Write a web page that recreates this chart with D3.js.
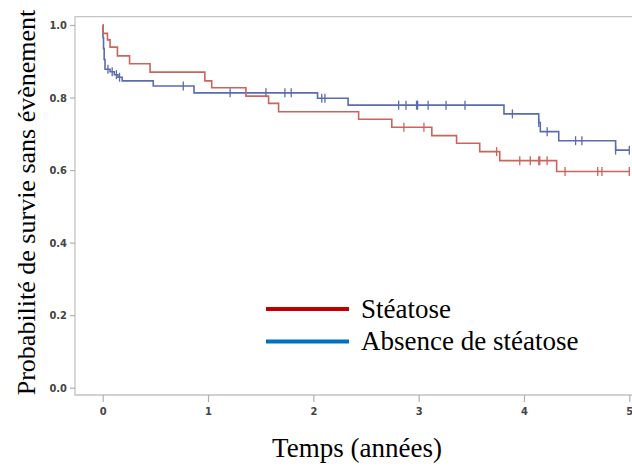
<!DOCTYPE html>
<html><head><meta charset="utf-8">
<script src="https://cdn.jsdelivr.net/npm/d3@7"></script>
<style>body{margin:0;background:#fff}svg{display:block}</style>
</head><body><svg id="c" width="632" height="466"></svg>
<script>
// Stéatose (red): step times and survival after each step
const redTimes  = [0, 0.005, 0.045, 0.07, 0.14, 0.255, 0.45, 0.97, 1.035, 1.36, 1.575, 1.67, 2.43, 2.745, 3.125, 3.36, 3.58, 3.77, 4.31];
const redSurv   = [1.0, 0.977, 0.959, 0.939, 0.915, 0.893, 0.870, 0.846, 0.827, 0.804, 0.784, 0.761, 0.740, 0.718, 0.695, 0.674, 0.651, 0.626, 0.596];
const redCensor = [2.86, 3.05, 3.74, 3.96, 4.06, 4.14, 4.15, 4.22, 4.39, 4.70, 4.74, 5.0];
const redEnd = 5.0;
// Absence de stéatose (blue)
const blueTimes  = [0, 0.003, 0.008, 0.014, 0.022, 0.07, 0.11, 0.145, 0.185, 0.48, 0.867, 2.04, 2.33, 3.81, 4.14, 4.155, 4.33, 4.87];
const blueSurv   = [1.0, 0.965, 0.935, 0.905, 0.878, 0.871, 0.863, 0.856, 0.846, 0.832, 0.813, 0.798, 0.779, 0.755, 0.731, 0.706, 0.681, 0.655];
const blueCensor = [0.05, 0.09, 0.13, 0.16, 0.765, 1.21, 1.55, 1.73, 1.79, 2.08, 2.11, 2.81, 2.88, 2.98, 2.99, 3.09, 3.26, 3.44, 3.89, 4.14, 4.22, 4.49, 4.55, 4.87, 5.0];
const blueEnd = 5.0;

const xTicks = [0, 1, 2, 3, 4, 5];
const yTicks = [0.0, 0.2, 0.4, 0.6, 0.8, 1.0];
const legendLabels = ["Stéatose", "Absence de stéatose"];
const xTitle = "Temps (années)";
const yTitle = "Probabilité de survie sans évènement";

const svg = d3.select("#c");
const x = d3.scaleLinear().domain([0, 5]).range([102.7, 629.3]);
const y = d3.scaleLinear().domain([0, 1]).range([387.7, 25]);

// frame
svg.append("path").attr("d", "M640,16.7H75V395H640")
  .attr("fill", "none").attr("stroke", "#c4c4c4").attr("stroke-width", 1.3);

const tickFont = "'Liberation Sans Narrow','DejaVu Sans Condensed','Liberation Sans',sans-serif";
const xAxis = d3.axisBottom(x).tickValues(xTicks).tickFormat(d3.format("d")).tickSize(7).tickPadding(5);
const gx = svg.append("g").attr("transform", "translate(0,395)").call(xAxis);
const yAxis = d3.axisLeft(y).tickValues(yTicks).tickFormat(d3.format(".1f")).tickSize(5).tickPadding(3);
const gy = svg.append("g").attr("transform", "translate(75,0)").call(yAxis);
[gx, gy].forEach(g => {
  g.select(".domain").remove();
  g.selectAll(".tick line").attr("stroke", "#b0b0b0").attr("stroke-width", 1.2);
  g.selectAll(".tick text").attr("fill", "#444").style("font-family", tickFont)
    .style("font-size", "11px").style("font-weight", "bold");
});

function stepLine(times, surv, end) {
  const pts = [];
  for (let i = 0; i < times.length; i++) {
    if (i > 0) pts.push([times[i], surv[i - 1]]);
    pts.push([times[i], surv[i]]);
  }
  pts.push([end, surv[surv.length - 1]]);
  return d3.line().x(d => x(d[0])).y(d => y(d[1]))(pts);
}
function survAt(times, surv, t) {
  let s = surv[0];
  for (let i = 0; i < times.length; i++) if (times[i] <= t) s = surv[i];
  return s;
}
const series = [
  {times: blueTimes, surv: blueSurv, cens: blueCensor, end: blueEnd, color: "#5b6bb0"},
  {times: redTimes, surv: redSurv, cens: redCensor, end: redEnd, color: "#c9655b"}
];
series.forEach(s => {
  svg.append("path").attr("d", stepLine(s.times, s.surv, s.end))
    .attr("fill", "none").attr("stroke", s.color).attr("stroke-width", 1.6);
  svg.append("g").selectAll("line").data(s.cens).join("line")
    .attr("x1", d => x(d)).attr("x2", d => x(d))
    .attr("y1", d => y(survAt(s.times, s.surv, d)) - 4.5)
    .attr("y2", d => y(survAt(s.times, s.surv, d)) + 4.5)
    .attr("stroke", s.color).attr("stroke-width", 1.3);
});

// legend
const serif = "'Liberation Serif','Times New Roman',serif";
const legColors = ["#c00000", "#0070c0"];
const lg = svg.append("g");
legendLabels.forEach((lab, i) => {
  const yy = 309 + i * 32.5;
  lg.append("line").attr("x1", 266).attr("x2", 349).attr("y1", yy).attr("y2", yy)
    .attr("stroke", legColors[i]).attr("stroke-width", 4);
  lg.append("text").attr("x", 361).attr("y", yy + 8.5).text(lab)
    .style("font-family", serif).style("font-size", "27px").attr("fill", "#000");
});

// axis titles
svg.append("text").attr("x", 357).attr("y", 457).attr("text-anchor", "middle")
  .style("font-family", serif).style("font-size", "27px").text(xTitle);
svg.append("text").attr("transform", "translate(35,202.5) rotate(-90)").attr("text-anchor", "middle")
  .style("font-family", serif).style("font-size", "26px").text(yTitle);
</script></body></html>
